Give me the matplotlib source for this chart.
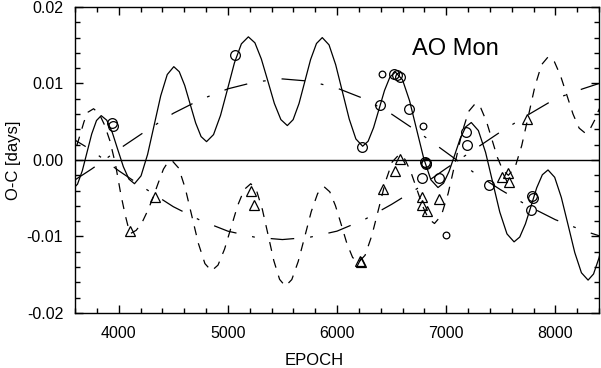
import matplotlib
matplotlib.use("Agg")
import matplotlib.pyplot as plt
from matplotlib.ticker import MultipleLocator, FormatStrFormatter

plt.rcParams['font.family'] = ['Liberation Sans', 'DejaVu Sans']
plt.rcParams['lines.scale_dashes'] = False

# ---- data ----
solid_E = [3580, 3623, 3667, 3710, 3753, 3797, 3840, 3891, 3942, 3992, 4043, 4094,
           4145, 4205, 4265, 4325, 4385, 4445, 4505, 4555, 4605, 4655, 4705, 4755,
           4805, 4869, 4933, 4997, 5060, 5124, 5188, 5248, 5307, 5367, 5426, 5486,
           5545, 5598, 5652, 5705, 5758, 5812, 5865, 5927, 5988, 6050, 6112, 6173,
           6235, 6285, 6335, 6385, 6435, 6485, 6535, 6600, 6665, 6730, 6795, 6860,
           6925, 6976, 7027, 7078, 7128, 7179, 7230, 7295, 7361, 7426, 7491, 7557,
           7622, 7674, 7726, 7778, 7829, 7881, 7933, 7994, 8055, 8117, 8178, 8239,
           8300, 8350, 8400, 8450]
solid_v = [-0.0038, -0.00316, -0.0014, 0.0010, 0.0034, 0.00516, 0.0058, 0.0052, 0.00358, 0.00135, -0.00088, -0.0025,
           -0.0031, -0.00207, 0.00073, 0.00455, 0.00838, 0.01117, 0.0122, 0.01154, 0.00975, 0.0073, 0.00485, 0.00306,
           0.0024, 0.00332, 0.00583, 0.00925, 0.01268, 0.01518, 0.0161, 0.01532, 0.0132, 0.0103, 0.0074, 0.00528,
           0.0045, 0.00527, 0.00738, 0.01025, 0.01313, 0.01523, 0.0160, 0.01505, 0.01245, 0.0089, 0.00535, 0.00275,
           0.0018, 0.00245, 0.00423, 0.00665, 0.00908, 0.01085, 0.0115, 0.01049, 0.00773, 0.00395, 0.00018, -0.00259,
           -0.0036, -0.00303, -0.00148, 0.00065, 0.00278, 0.00433, 0.0049, 0.00385, 0.0010, -0.0029, -0.0068, -0.00966,
           -0.0107, -0.01007, -0.00835, -0.0060, -0.00365, -0.00193, -0.0013, -0.00226, -0.0049, -0.0085, -0.0121, -0.01474,
           -0.0157, -0.0149, -0.0128, -0.0099]

dash_E = [3540, 3576, 3612, 3648, 3683, 3719, 3770, 3820, 3870, 3920, 3970, 4020,
          4060, 4090, 4110, 4160, 4210, 4260, 4310, 4360, 4410, 4450, 4490, 4550,
          4610, 4670, 4730, 4790, 4850, 4910, 4970, 5030, 5090, 5150, 5210, 5263,
          5316, 5369, 5421, 5474, 5527, 5586, 5645, 5705, 5764, 5823, 5882, 5934,
          5986, 6039, 6091, 6143, 6195, 6257, 6319, 6382, 6444, 6506, 6568, 6622,
          6676, 6731, 6785, 6839, 6893, 6956, 7018, 7081, 7143, 7206, 7268, 7318,
          7369, 7419, 7469, 7520, 7570, 7631, 7692, 7753, 7813, 7874, 7935, 7992,
          8048, 8105, 8162, 8218, 8275, 8320, 8360, 8400, 8430]
dash_v = [0.0000, 0.00045, 0.00168, 0.00335, 0.00503, 0.00625, 0.0067, 0.0061, 0.0046, 0.0025, -0.0005, -0.0045,
          -0.0072, -0.0089, -0.0096, -0.0092, -0.0083, -0.0068, -0.0051, -0.0031, -0.0012, -0.0003, -0.0001, -0.00106,
          -0.0037, -0.0073, -0.0109, -0.01354, -0.0145, -0.01374, -0.01165, -0.0088, -0.00595, -0.00386, -0.0031, -0.0040,
          -0.00645, -0.0098, -0.01315, -0.0156, -0.0165, -0.01563, -0.01325, -0.0100, -0.00675, -0.00437, -0.0035, -0.00416,
          -0.00598, -0.00845, -0.01093, -0.01274, -0.0134, -0.01246, -0.00988, -0.00635, -0.00283, -0.00025, 0.0007, 0.0001,
          -0.00155, -0.0038, -0.00605, -0.0077, -0.0083, -0.00725, -0.00438, -0.00045, 0.00348, 0.00635, 0.0074, 0.00677,
          0.00505, 0.0027, 0.00035, -0.00137, -0.0020, -0.00096, 0.00188, 0.00575, 0.00963, 0.01246, 0.0135, 0.01283,
          0.0110, 0.0085, 0.0060, 0.00417, 0.0035, 0.0041, 0.0052, 0.0066, 0.0075]

long_E = [3600, 3750, 3870, 4000, 4250, 4500, 4750, 5000, 5250, 5500, 5750,
          6000, 6250, 6500, 6750, 7000, 7250, 7500, 7750, 8000, 8250, 8400]
long1_v = [-0.0026, -0.0012, 0.0000, 0.0014, 0.0038, 0.0061, 0.0079, 0.0093, 0.0102, 0.0106, 0.0103,
           0.0094, 0.0080, 0.0060, 0.0036, 0.0010, -0.0016, -0.0039, -0.0060, -0.0078, -0.0092, -0.0099]
long2_v = [0.0026, 0.0013, 0.0000, -0.0014, -0.0038, -0.0061, -0.0079, -0.0093, -0.0101, -0.0104, -0.0101,
           -0.0093, -0.0078, -0.0058, -0.0036, -0.0011, 0.0013, 0.0037, 0.0059, 0.0080, 0.0093, 0.0100]

circ_E = [3940, 3945, 5068, 6233, 6392, 6520, 6551, 6581, 6658, 6781, 6806, 6811, 6816,
          6933, 7178, 7193, 7395, 7780, 7790, 7799]
circ_v = [0.0049, 0.0045, 0.0137, 0.0017, 0.0072, 0.0112, 0.0111, 0.0109, 0.0067, -0.0024, -0.0003, -0.0004, -0.0005,
          -0.0024, 0.0037, 0.0020, -0.0033, -0.0066, -0.0047, -0.0050]
small_E = [6414, 6786, 6994]
small_v = [0.0112, 0.0044, -0.0098]

tri_E = [4107, 4337, 5208, 5239, 6212, 6222, 6422, 6529, 6575, 6780, 6782, 6826, 6933,
         7515, 7565, 7580, 7737]
tri_v = [-0.0093, -0.0048, -0.0040, -0.0059, -0.0132, -0.0133, -0.0038, -0.0015, 0.0001, -0.0048, -0.0059, -0.0067,
         -0.0051, -0.0022, -0.0017, -0.0029, 0.0054]

# ---- figure ----
fig = plt.figure(figsize=(6.01, 3.68), dpi=100)
ax = fig.add_axes([75/601, 1-313/368, 524/601, 306/368])

lw = 0.9
ax.axhline(0, color='black', lw=1.0, zorder=1)
ax.plot(solid_E, solid_v, color='black', lw=lw, ls='-')
ax.plot(dash_E, dash_v, color='black', lw=lw, ls=(0, (6.5, 6.0)))
ax.plot(long_E, long1_v, color='black', lw=lw, ls=(0, (17, 11.5, 2, 11.5)))
ax.plot(long_E, long2_v, color='black', lw=lw, ls=(8, (17, 11.5, 2, 11.5)))

ax.plot(circ_E, circ_v, ls='none', marker='o', ms=7, mfc='none', mec='black', mew=0.9)
ax.plot(small_E, small_v, ls='none', marker='o', ms=4.8, mfc='none', mec='black', mew=0.9)
ax.plot(tri_E, tri_v, ls='none', marker='^', ms=6.5, mfc='none', mec='black', mew=0.9)

ax.text(6683, 0.0137, 'AO Mon', fontsize=17, ha='left', va='baseline')

ax.set_xlim(3600, 8400)
ax.set_ylim(-0.02, 0.02)
ax.xaxis.set_major_locator(MultipleLocator(1000))
ax.xaxis.set_minor_locator(MultipleLocator(200))
ax.yaxis.set_major_locator(MultipleLocator(0.01))
ax.yaxis.set_minor_locator(MultipleLocator(0.002))
ax.yaxis.set_major_formatter(FormatStrFormatter('%.2f'))
ax.tick_params(which='both', direction='in', top=True, right=True, width=1.0, colors='black')
ax.tick_params(which='major', length=5.8)
ax.tick_params(which='minor', length=3.6)
ax.tick_params(axis='x', which='major', pad=9, labelsize=11.5)
ax.tick_params(axis='y', which='major', pad=8.5, labelsize=11.5)
for s in ax.spines.values():
    s.set_linewidth(1.0)

xl = ax.set_xlabel('EPOCH', fontsize=12)
xl.set_verticalalignment('baseline')
ax.xaxis.set_label_coords(0.456, -0.171)
ax.set_ylabel('O-C [days]', fontsize=12)
ax.yaxis.set_label_coords(-0.103, 0.5)

fig.savefig('out.png', dpi=100)
